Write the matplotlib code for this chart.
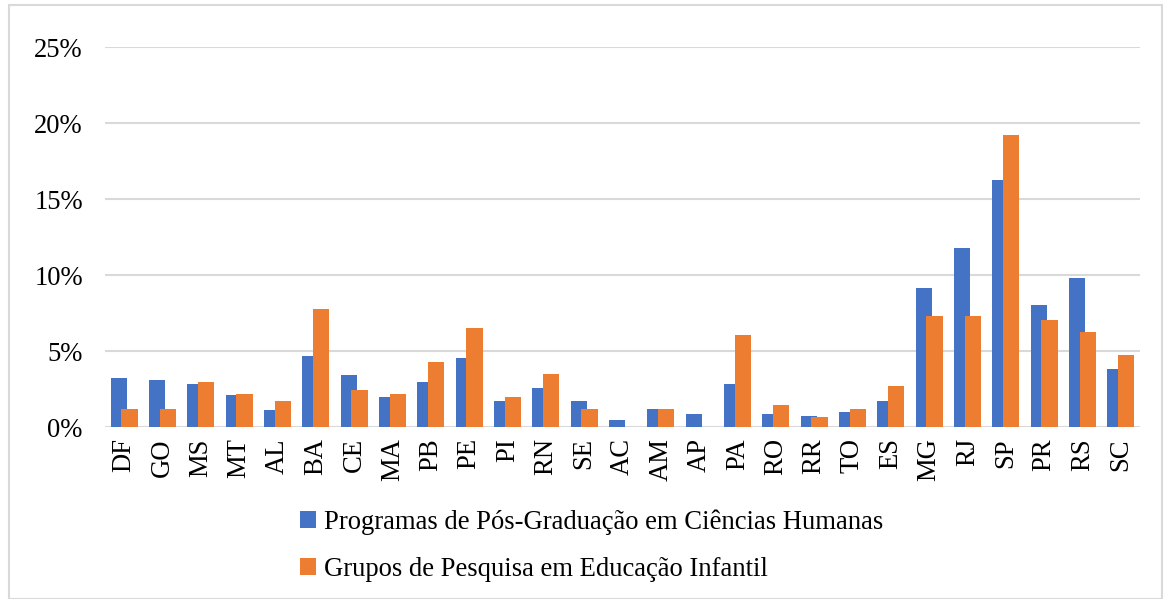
import numpy as np
import matplotlib.pyplot as plt
from matplotlib.patches import Rectangle

# Data (% of total per state)
estados = ['DF', 'GO', 'MS', 'MT', 'AL', 'BA', 'CE', 'MA', 'PB', 'PE', 'PI', 'RN', 'SE',
           'AC', 'AM', 'AP', 'PA', 'RO', 'RR', 'TO', 'ES', 'MG', 'RJ', 'SP', 'PR', 'RS', 'SC']
programas = [3.24, 3.09, 2.81, 2.13, 1.14, 4.65, 3.40, 2.00, 2.98, 4.52, 1.71, 2.54, 1.71,
             0.44, 1.18, 0.85, 2.83, 0.85, 0.72, 0.99, 1.71, 9.12, 11.80, 16.27, 8.03, 9.82, 3.80]
grupos = [1.18, 1.18, 2.96, 2.19, 1.69, 7.78, 2.46, 2.19, 4.25, 6.51, 1.95, 3.46, 1.18,
          0.0, 1.18, 0.0, 6.03, 1.43, 0.68, 1.18, 2.70, 7.28, 7.28, 19.23, 7.02, 6.27, 4.74]
nome_prog = 'Programas de Pós-Graduação em Ciências Humanas'
nome_grupos = 'Grupos de Pesquisa em Educação Infantil'

plt.rcParams['font.family'] = ['Liberation Serif', 'DejaVu Serif']
fs = 19.2

fig = plt.figure(figsize=(11.71, 5.99), dpi=100)
ax = fig.add_axes([0.0897, 0.2871, 0.9735 - 0.0897, 0.9215 - 0.2871])

x = np.arange(len(estados))
w = 0.43
ax.bar(x - 0.14, programas, width=w, color='#4472C4', label=nome_prog, zorder=2)
ax.bar(x + 0.14, grupos, width=w, color='#ED7D31', label=nome_grupos, zorder=3)

ax.set_xlim(-0.5, len(estados) - 0.5)
ax.set_ylim(0, 25)
ax.set_yticks([0, 5, 10, 15, 20, 25])
ax.set_yticklabels([f'{v}%' for v in range(0, 30, 5)], fontsize=fs)
ax.set_xticks(x)
ax.set_xticklabels(estados, rotation=90, fontsize=fs)
ax.tick_params(axis='both', length=0)
ax.tick_params(axis='y', pad=16)
ax.tick_params(axis='x', pad=8)
ax.grid(axis='y', color='#D9D9D9', linewidth=1.5, zorder=0)
ax.set_axisbelow(True)
for s in ax.spines.values():
    s.set_visible(False)

fig.legend(loc='center left', bbox_to_anchor=(0.256, 0.089), frameon=False,
           fontsize=fs, handlelength=0.6, handleheight=0.6, handletextpad=0.3,
           labelspacing=0.8, borderpad=0, borderaxespad=0)

# light border around the chart area
fig.patches.append(Rectangle((9 / 1171, 0), 1 - 18 / 1171, 1 - 5 / 599,
                             transform=fig.transFigure, fill=False,
                             edgecolor='#D9D9D9', linewidth=1.5))

fig.savefig('out.png', dpi=100)
